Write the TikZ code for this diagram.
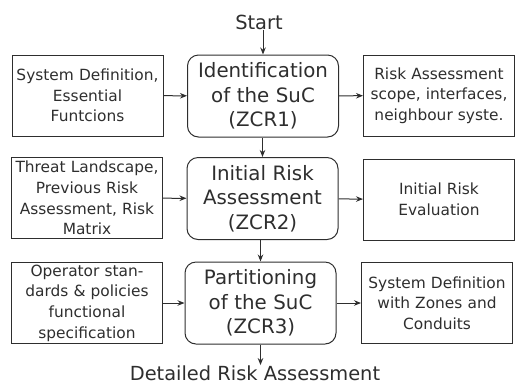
\documentclass[tikz,border=0pt]{standalone}
\usepackage{fontspec}
\setmainfont{DejaVu Sans}
\usetikzlibrary{arrows.meta}
\definecolor{ink}{gray}{0.18}
\tikzset{
  sidebox/.style={draw=ink, line width=1pt, text=ink, inner sep=0pt,
    minimum width=151pt, minimum height=81pt, text width=148pt, align=center,
    font=\fontsize{15.4pt}{20.7pt}\selectfont},
  mainbox/.style={draw=ink, line width=1pt, text=ink, inner sep=0pt, rounded corners=11pt,
    minimum width=151pt, minimum height=82pt, text width=148pt, align=center,
    font=\fontsize{19.8pt}{24.5pt}\selectfont},
  label/.style={text=ink, inner sep=0pt, font=\fontsize{19.4pt}{24pt}\selectfont},
  arr/.style={draw=ink, line width=1pt, -{Stealth[length=7pt,width=5.5pt]}}
}
\begin{document}
\begin{tikzpicture}[x=1pt,y=-1pt]
\useasboundingbox (0,0) rectangle (516,384);
\node[label] (start) at (259,22) {Start};
% row 1
\node[sidebox] (l1) at (87.5,95.5) {System Definition,\\Essential\\Funtcions};
\node[mainbox] (c1) at (263,96) {Identification\\of the SuC\\(ZCR1)};
\node[sidebox] (r1) at (439,95.5) {Risk Assessment\\scope, interfaces,\\neighbour syste.};
% row 2
\node[sidebox] (l2) at (87,198) {Threat Landscape,\\Previous Risk\\Assessment, Risk\\Matrix};
\node[mainbox] (c2) at (262.5,198.5) {Initial Risk\\Assessment\\(ZCR2)};
\node[sidebox] (r2) at (439,199.5) {Initial Risk\\Evaluation};
% row 3
\node[sidebox] (l3) at (87,303) {Operator stan-\\dards \& policies\\functional\\specification};
\node[mainbox] (c3) at (260.5,303) {Partitioning\\of the SuC\\(ZCR3)};
\node[sidebox] (r3) at (437,303) {System Definition\\with Zones and\\Conduits};
\node[label, anchor=base] (det) at (255,380) {Detailed Risk Assessment};
% connectors
\draw[arr] (start.south -| c1.north) -- (c1.north);
\draw[arr] (l1) -- (c1);
\draw[arr] (c1) -- (r1);
\draw[arr] (c1.south -| c2.north) -- (c2.north);
\draw[arr] (l2) -- (c2);
\draw[arr] (c2) -- (r2);
\draw[arr] (c2.south -| c3.north) -- (c3.north);
\draw[arr] (l3) -- (c3);
\draw[arr] (c3) -- (r3);
\draw[arr] (c3.south) -- (c3.south |- det.north);
\end{tikzpicture}
\end{document}
